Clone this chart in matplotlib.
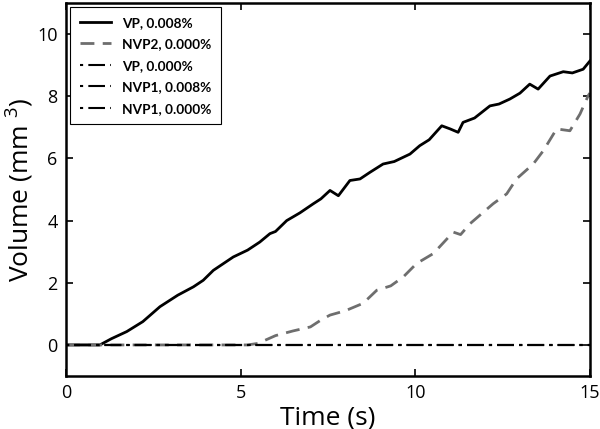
import matplotlib
matplotlib.use("Agg")
import matplotlib.pyplot as plt

# Data
vp_t = [0, 0.97, 1.3, 1.74, 2.2, 2.69, 3.2, 3.65, 3.93, 4.22, 4.79, 5.2, 5.55, 5.84, 6.0,
        6.32, 6.7, 7.08, 7.3, 7.56, 7.8, 8.13, 8.42, 8.7, 9.08, 9.4, 9.85, 10.13, 10.4,
        10.76, 11.0, 11.23, 11.37, 11.7, 12.14, 12.4, 12.71, 13.0, 13.28, 13.52, 13.86,
        14.24, 14.5, 14.81, 15.0]
vp_v = [0, 0, 0.2, 0.43, 0.75, 1.23, 1.6, 1.87, 2.08, 2.4, 2.83, 3.05, 3.31, 3.58, 3.65,
        4.0, 4.25, 4.54, 4.7, 4.97, 4.8, 5.29, 5.34, 5.55, 5.82, 5.9, 6.14, 6.41, 6.6,
        7.05, 6.95, 6.84, 7.16, 7.3, 7.69, 7.75, 7.91, 8.1, 8.39, 8.23, 8.65,
        8.79, 8.75, 8.87, 9.13]

nvp2_t = [0, 5.2, 5.5, 6.0, 6.5, 7.0, 7.3, 7.56, 8.0, 8.51, 8.9, 9.3, 9.66, 10.04, 10.52,
          11.09, 11.3, 11.57, 12.23, 12.62, 12.9, 13.38, 13.67, 14.05, 14.43, 14.72, 14.95, 15.0]
nvp2_v = [0, 0, 0.05, 0.3, 0.45, 0.58, 0.8, 0.96, 1.1, 1.34, 1.76, 1.9, 2.19, 2.62, 2.94,
          3.63, 3.55, 3.9, 4.54, 4.86, 5.34, 5.82, 6.25, 6.95, 6.89, 7.43, 8.01, 8.1]

zero_t = [0, 15]
vp0_v = [0, 0]
nvp1_008_v = [0, 0]
nvp1_000_v = [0, 0]

labels = ["VP, 0.008%", "NVP2, 0.000%", "VP, 0.000%", "NVP1, 0.008%", "NVP1, 0.000%"]

plt.rcParams['font.family'] = ['Open Sans', 'DejaVu Sans']
plt.rcParams['mathtext.default'] = 'regular'

fig = plt.figure(figsize=(6, 4.29), dpi=100)
ax = fig.add_axes([0.11, 0.1235, 0.873, 0.8695])

ax.plot(vp_t, vp_v, color='black', lw=2.0, label=labels[0])
ax.plot(nvp2_t, nvp2_v, color='#6e6e6e', lw=2.0, ls=(0, (5, 3)), label=labels[1])
dashdot = (0, (1.5, 2.5, 8, 2.5))
ax.plot(zero_t, vp0_v, color='black', lw=1.5, ls=dashdot, label=labels[2])
ax.plot(zero_t, nvp1_008_v, color='black', lw=1.5, ls=dashdot, label=labels[3])
ax.plot(zero_t, nvp1_000_v, color='black', lw=1.5, ls=dashdot, label=labels[4])

ax.set_xlim(0, 15)
ax.set_ylim(-1, 11)
ax.set_xticks([0, 5, 10, 15])
ax.set_yticks([0, 2, 4, 6, 8, 10])
ax.tick_params(direction='in', top=True, right=True, length=5, width=1.2, labelsize=13, pad=6)
for s in ax.spines.values():
    s.set_linewidth(1.8)

ax.set_xlabel("Time (s)", fontsize=19, labelpad=2)
ax.set_ylabel("Volume (mm $^3$)", fontsize=19, labelpad=1)

leg = ax.legend(loc='upper left', bbox_to_anchor=(0.0, 1.0), fancybox=False, framealpha=1,
                edgecolor='black', prop={'family': 'Lato', 'weight': 'bold', 'size': 9.8},
                handlelength=2.3, labelspacing=0.7, borderpad=0.7, borderaxespad=0.3)
leg.get_frame().set_linewidth(0.8)

fig.savefig("out.png", dpi=100)
